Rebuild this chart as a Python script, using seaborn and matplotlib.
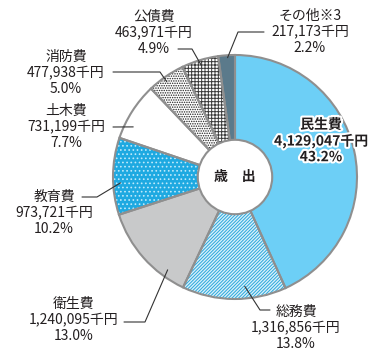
import matplotlib
matplotlib.use("Agg")
import numpy as np
import matplotlib.pyplot as plt
import matplotlib.patheffects as pe
from matplotlib.patches import Circle
import seaborn as sns

# data
categories = ['民生費', '総務費', '衛生費', '教育費', '土木費', '消防費', '公債費', 'その他※3']
amounts = [4129047, 1316856, 1240095, 973721, 731199, 477938, 463971, 217173]
percents = [43.2, 13.8, 13.0, 10.2, 7.7, 5.0, 4.9, 2.2]

sns.set_style('white')
plt.rcParams['font.family'] = ['Noto Sans CJK JP', 'DejaVu Sans']
plt.rcParams['hatch.linewidth'] = 0.7

face = ['#6dcff6', '#d8f0fa', '#c8c9ca', '#1ea9e1', 'white', 'white', 'white', '#5b7a8b']
hatch = [None, '//////////', None, '....', None, '.......', '+++++', None]
hatch_col = ['#6dcff6', '#2aa7dc', '#c8c9ca', '#bfe9fa', 'white', '#222222', '#3a3a3a', '#5b7a8b']
edge = '#8f8f8f'

W, H = 384, 360
CX, CY, R = 235, 177, 122


def px(x, y):
    # pixel position -> data coords (pie radius = 1)
    return (x - CX) / R, (CY - y) / R


fig = plt.figure(figsize=(W / 100, H / 100), dpi=100)
ax = fig.add_axes([0, 0, 1, 1])

wedges, _ = ax.pie(percents, startangle=90, counterclock=False, colors=face,
                   wedgeprops=dict(linewidth=0))
for w, h, c in zip(wedges, hatch, hatch_col):
    if h:
        w.set_hatch(h)
        w.set_edgecolor(c)
ax.pie(percents, startangle=90, counterclock=False,
       wedgeprops=dict(fill=False, edgecolor=edge, linewidth=1.5))
ax.add_patch(Circle((0, 0), 0.305, facecolor='white', edgecolor=edge, linewidth=1.5, zorder=5))
ax.text(0, 0, '歳　出', ha='center', va='center', fontsize=10, fontweight='bold',
        color='#231f20', zorder=6)

# label layout: text centre, leader start, elbow, position inside wedge (frac, radius)
layout = {
    '民生費': dict(text=(321, 141)),
    '総務費': dict(text=(296, 328), start=(270, 310), elbow=(260, 310), frac=0.39, r=0.9),
    '衛生費': dict(text=(74, 320), start=(124, 322), elbow=(145, 322), frac=0.23, r=0.94),
    '教育費': dict(text=(54, 213), start=(82, 197), elbow=(97, 197), frac=0.41, r=0.94),
    '土木費': dict(text=(66, 127), start=(113, 127), elbow=(113, 127), frac=0.27, r=0.93),
    '消防費': dict(text=(66, 73), start=(113, 72), elbow=(160, 72), frac=0.44, r=0.96),
    '公債費': dict(text=(154, 33), start=(178, 49), elbow=(192, 49), frac=0.5, r=0.95),
    'その他※3': dict(text=(310, 32), start=(264, 32), elbow=(238, 32), frac=0.55, r=0.98),
}

for w, name, amt, pct in zip(wedges, categories, amounts, percents):
    lay = layout[name]
    label = '{}\n{:,}千円\n{:.1f}%'.format(name, amt, pct)
    tx, ty = px(*lay['text'])
    if name == '民生費':
        ax.text(tx, ty, label, ha='center', va='center', fontsize=10, fontweight='bold',
                linespacing=1.15, color='#231f20', zorder=7,
                path_effects=[pe.withStroke(linewidth=3, foreground='white')])
        continue
    ax.text(tx, ty, label, ha='center', va='center', fontsize=10, linespacing=1.15,
            color='#231f20', zorder=7)
    ang = np.deg2rad(w.theta2 - lay['frac'] * (w.theta2 - w.theta1))
    wx, wy = lay['r'] * np.cos(ang), lay['r'] * np.sin(ang)
    sx, sy = px(*lay['start'])
    ex, ey = px(*lay['elbow'])
    ax.plot([sx, ex, wx], [sy, ey, wy], color='#333333', lw=0.8, zorder=8)

ax.set_xlim((0 - CX) / R, (W - CX) / R)
ax.set_ylim((CY - H) / R, CY / R)
ax.set_aspect('auto')
ax.axis('off')

fig.savefig('out.png', dpi=100)
